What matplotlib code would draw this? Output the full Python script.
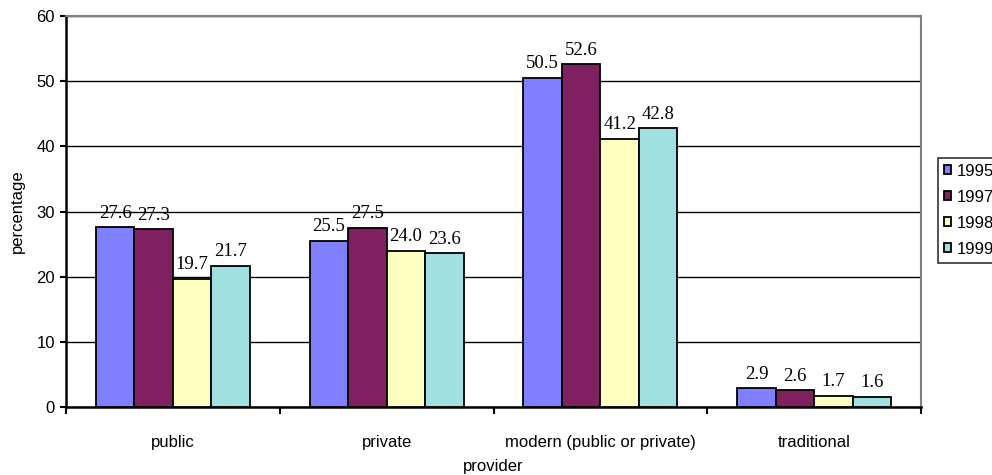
import numpy as np
import matplotlib.pyplot as plt

plt.rcParams.update({
    'font.family': 'sans-serif',
    'font.sans-serif': ['Liberation Sans', 'Arial', 'DejaVu Sans'],
    'font.size': 12,
})

categories = ['public', 'private', 'modern (public or private)', 'traditional']
years = ['1995', '1997', '1998', '1999']
values_1995 = [27.6, 25.5, 50.5, 2.9]
values_1997 = [27.3, 27.5, 52.6, 2.6]
values_1998 = [19.7, 24.0, 41.2, 1.7]
values_1999 = [21.7, 23.6, 42.8, 1.6]
y_ticks = [0, 10, 20, 30, 40, 50, 60]

COLORS = ['#8080FF', '#802060', '#FFFFC0', '#A0E0E0']

fig = plt.figure(figsize=(9.92, 4.75), dpi=100)
ax = fig.add_axes([66 / 992, 1 - 407 / 475, (921 - 66) / 992, (407 - 16) / 475])

centers = np.arange(len(categories)) + 0.5
width = 0.18
series = [values_1995, values_1997, values_1998, values_1999]

for i, (vals, year) in enumerate(zip(series, years)):
    x = centers + (i - 1.5) * width
    bars = ax.bar(x, vals, width, color=COLORS[i], edgecolor='black',
                  linewidth=1.3, label=year, zorder=3)
    for bar, v in zip(bars, vals):
        ax.annotate(f'{v:.1f}', (bar.get_x() + bar.get_width() / 2, bar.get_height()),
                    xytext=(0, 4), textcoords='offset points', ha='center', va='bottom',
                    fontsize=13.5, family='Liberation Serif', zorder=2)

ax.set_xlim(0, len(categories))
ax.set_ylim(0, 60)
ax.set_yticks(y_ticks)
ax.yaxis.grid(True, color='black', linewidth=1, zorder=1)
ax.set_axisbelow(True)

ax.set_xticks(np.arange(len(categories) + 1))
ax.set_xticklabels([])
ax.set_xticks(centers, minor=True)
ax.set_xticklabels(categories, minor=True)
ax.tick_params(axis='x', which='minor', length=0, pad=20)
ax.tick_params(axis='x', which='major', length=5, width=1.5, direction='out')
ax.tick_params(axis='y', length=4, width=1.5, direction='out', pad=4)

for side in ['left', 'bottom']:
    ax.spines[side].set_linewidth(1.8)
    ax.spines[side].set_color('black')
for side in ['top', 'right']:
    ax.spines[side].set_linewidth(1.5)
    ax.spines[side].set_color('#808080')

ax.set_ylabel('percentage', labelpad=8)
ax.set_xlabel('provider', labelpad=7)

leg = fig.legend(loc='upper left', bbox_to_anchor=(938 / 992, 1 - 158 / 475),
                 frameon=True, fancybox=False, edgecolor='black', fontsize=12,
                 handlelength=0.45, handleheight=0.45, handletextpad=0.35,
                 borderpad=0.35, labelspacing=0.66, borderaxespad=0)
leg.get_frame().set_linewidth(1.2)

fig.savefig('out.png', dpi=100)
